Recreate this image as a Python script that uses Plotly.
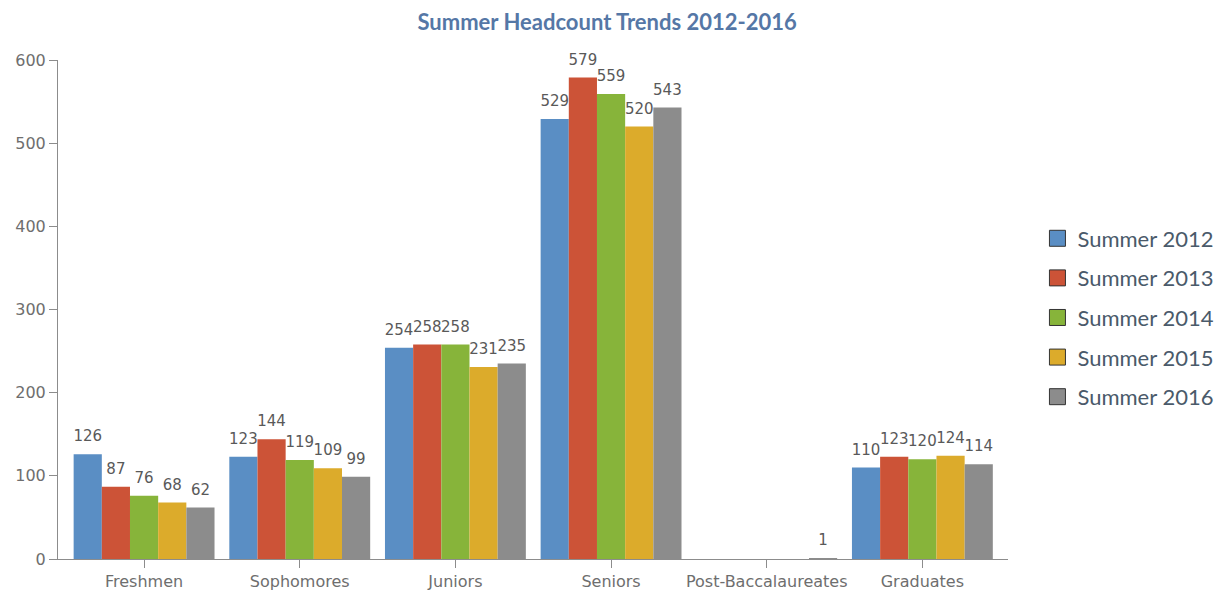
import plotly.graph_objects as go

categories = ["Freshmen", "Sophomores", "Juniors", "Seniors", "Post-Baccalaureates", "Graduates"]
series_names = ["Summer 2012", "Summer 2013", "Summer 2014", "Summer 2015", "Summer 2016"]
summer_2012 = [126, 123, 254, 529, None, 110]
summer_2013 = [87, 144, 258, 579, None, 123]
summer_2014 = [76, 119, 258, 559, None, 120]
summer_2015 = [68, 109, 231, 520, None, 124]
summer_2016 = [62, 99, 235, 543, 1, 114]
series_values = [summer_2012, summer_2013, summer_2014, summer_2015, summer_2016]
colors = ["#5a8ec4", "#cc5337", "#87b43a", "#dcab2b", "#8c8c8c"]
y_ticks = [0, 100, 200, 300, 400, 500, 600]

fig = go.Figure()
for i, (name, vals, col) in enumerate(zip(series_names, series_values, colors)):
    fig.add_trace(go.Bar(
        x=categories, y=vals, name=name, marker=dict(color=col, line=dict(width=0)),
        offsetgroup=str(i), showlegend=False,
    ))
    fig.add_trace(go.Scatter(
        x=categories, y=vals, mode="markers+text", offsetgroup=str(i),
        text=["" if v is None else str(v) for v in vals],
        textposition="top center", cliponaxis=False,
        marker=dict(size=13, opacity=0),
        textfont=dict(family="DejaVu Sans", size=15, color="#595959"),
        showlegend=False, hoverinfo="skip",
    ))
for name, col in zip(series_names, colors):
    fig.add_trace(go.Scatter(
        x=[None], y=[None], mode="markers", name=name, legendgroup=name,
        marker=dict(symbol="square", size=22, color=col, line=dict(color="#333333", width=1)),
    ))

fig.update_layout(
    width=1224, height=592,
    paper_bgcolor="white", plot_bgcolor="white",
    margin=dict(l=50, r=224, t=52, b=41),
    barmode="group", bargap=0.095, bargroupgap=0,
    scattermode="group", scattergap=0.095,
    title=dict(text="<b>Summer Headcount Trends 2012-2016</b>", x=0.4895, xanchor="center",
               y=0.976, yanchor="middle",
               font=dict(family="Lato", size=22, color="#5577a6")),
    legend=dict(x=1.031, y=0.484, xanchor="left", yanchor="middle",
                font=dict(family="Lato", size=22, color="#4a5a6a"),
                itemsizing="trace", tracegroupgap=8, itemwidth=30),
    font=dict(family="DejaVu Sans", color="#707070"),
)
fig.update_xaxes(range=[-0.553, 5.55], showline=True, linecolor="#8c8c8c", linewidth=1,
                 ticks="outside", ticklen=8, tickcolor="#8c8c8c", showgrid=False, automargin=False,
                 tickfont=dict(family="DejaVu Sans", size=16, color="#6e6e6e"))
fig.update_yaxes(range=[0, 600], tickvals=y_ticks, showline=True, linecolor="#8c8c8c", linewidth=1,
                 ticks="outside", ticklen=8, tickcolor="#8c8c8c", showgrid=False, zeroline=False,
                 automargin=False,
                 tickfont=dict(family="DejaVu Sans", size=16, color="#6e6e6e"))

fig.write_html("out.html")
